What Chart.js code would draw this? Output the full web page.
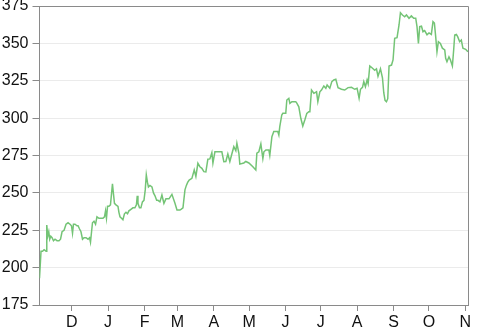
<!DOCTYPE html>
<html><head><meta charset="utf-8">
<script src="https://cdn.jsdelivr.net/npm/chart.js@4/dist/chart.umd.min.js"></script>
<style>html,body{margin:0;padding:0;background:#fff}#wrap{width:483px;height:329px}</style>
</head><body><div id="wrap"><canvas id="c" width="483" height="329"></canvas></div>
<script>
// days since 1 Nov (start of the period)
const days = [2.6,3.9,5.2,6.5,8.2,8.8,9.6,10.5,11.3,12.2,13.3,14.5,15.8,17.5,19.2,20.5,21.8,23.5,25.2,26.9,28.6,29.8,
30.7,31.5,32.8,34.5,35.4,36.6,37.9,39.2,40.5,42.2,43.9,45.2,46.0,46.9,47.7,49.0,50.3,51.5,53.2,54.9,56.6,57.9,58.8,59.6,60.5,
61.7,63.0,64.7,65.6,66.4,67.7,69.4,70.2,71.1,72.4,73.6,74.9,76.2,77.5,78.7,80.4,82.1,83.8,85.1,85.8,86.4,87.7,88.9,90.2,91.5,
92.6,93.5,94.5,95.3,96.6,98.3,99.6,100.9,102.3,103.4,105.1,106.8,108.5,110.2,112.8,115.3,117.9,119.6,
122.1,123.0,124.7,126.4,127.6,128.7,130.0,132.3,134.3,135.7,137.4,139.1,140.8,142.5,144.2,145.9,147.6,149.3,150.2,
151.9,154.4,157.8,159.5,161.2,162.9,164.6,166.3,168.0,169.7,170.6,172.3,173.1,174.8,176.5,178.2,180.8,
184.2,186.7,187.6,189.3,191.0,192.7,193.6,195.3,197.8,198.6,200.4,202.0,203.7,205.4,206.3,207.1,208.8,209.7,
212.2,213.1,214.8,215.7,217.4,219.0,220.7,221.6,223.3,225.0,226.7,228.4,230.1,231.8,232.7,234.1,236.1,238.4,239.5,241.2,
242.6,244.6,246.3,247.4,249.7,251.4,253.1,254.8,256.7,259.6,262.4,265.2,268.1,270.9,272.9,
274.6,275.8,277.5,278.6,280.0,281.4,282.3,283.7,285.1,287.9,289.4,290.7,292.8,294.5,295.6,296.7,297.9,299.0,300.1,302.2,303.5,
304.9,306.9,308.6,309.8,311.5,313.4,314.9,317.1,319.1,321.1,322.8,323.9,325.1,326.2,327.7,329.0,330.4,332.4,
334.1,336.1,337.5,338.7,339.8,340.9,342.1,343.8,345.5,347.5,348.3,349.4,351.1,352.3,354.0,355.1,356.0,357.4,358.5,360.2,361.6,363.0,
365.3,367.2];
const prices = [193,211,211,212,211,228.5,221,224,219,221,220,218,219,218,218,219,224,225,229,230,229,228,
223,229,229,228,228,226,224,219,220,220,219,220,217,224,230,231,229,234,233,233,233,234,238,233,241,
241,242,256,249,243,242,241,237,234,233,232,236,237,236,238,239,240,240,242,248,243,240,240,244,245,
252,262,257,254,255,254,250,248,245,245,244,248.6,243,246,246,249,243,238.5,
238.5,239,240,252,255,257,258.6,259.7,265.3,261,269.8,267.5,266.4,264.2,264,272.5,272.7,276.9,270,
277.5,277.5,277.5,270.9,271,276,271,276,280.9,278.2,283.2,276.5,269.3,269.6,270,271,270,
267.5,265.3,276.5,277.5,282.7,273,277.5,278.7,278.7,275,287.6,291,291,291,288.7,294.3,302.1,303.2,
303.2,312.1,313.2,309.9,311,311,311,310,307.6,299.9,294.7,298.7,303.2,304.3,304.3,318.8,316.6,317.6,311,317.6,
318.8,321.5,320,322.2,320,324.4,325.5,326,320.4,319.3,318.8,320.4,320.6,319.3,320,
313.3,319.3,320.6,324.4,321,325.5,323,334.9,334,332,333,328,333,327,317,311.9,311,313,334.9,335.5,338.9,
353.4,353.8,362.3,370.5,369,367.8,369,366.8,368.4,366.8,366.8,361.2,350,361.2,361.5,357.8,358.5,355.8,
357,356,364.5,363.5,354.5,344.4,351.1,350,346.8,345.6,340,337.7,341,339,334.9,345.6,355.6,356,354.5,351.1,352.2,346.7,
346,344.4];
// month ticks (days since 1 Nov) and labels
const monthTickDays = [30,61,92,120,151,181,212,242,273,304,334,365];
const monthLabels = ['D','J','F','M','A','M','J','J','A','S','O','N'];
const yTicks = [175,200,225,250,275,300,325,350,375];

const points = days.map((d,i)=>({x:d,y:prices[i]}));
const FONT = {family:"'Liberation Sans', Arial, Helvetica, sans-serif", size:16};

const framePlugin = {
  id:'frame',
  beforeDatasetsDraw(chart){
    const {ctx, chartArea:a} = chart;
    ctx.save();
    ctx.strokeStyle = '#8a8a8a';
    ctx.lineWidth = 1;
    ctx.beginPath();
    ctx.moveTo(Math.round(a.left)-0.5, Math.round(a.top)+0.5);
    ctx.lineTo(Math.round(a.right)+0.5, Math.round(a.top)+0.5);
    ctx.lineTo(Math.round(a.right)+0.5, Math.round(a.bottom));
    ctx.stroke();
    ctx.restore();
  }
};

new Chart(document.getElementById('c'), {
  type:'line',
  data:{datasets:[{data:points, borderColor:'rgb(116,196,118)', borderWidth:1.5, pointRadius:0, tension:0, fill:false}]},
  options:{
    responsive:false, animation:false,
    layout:{padding:{top:6,right:15,left:0,bottom:0}},
    plugins:{legend:{display:false}, tooltip:{enabled:false}},
    scales:{
      x:{type:'linear', min:2.6, max:367.3,
        afterBuildTicks(s){ s.ticks = monthTickDays.map(v=>({value:v})); },
        afterFit(s){ s.height = 24; s.paddingLeft = 0; s.paddingRight = 0; },
        ticks:{autoSkip:false, maxRotation:0, padding:2, color:'#111', font:FONT,
          callback:(v,i)=>monthLabels[i]},
        grid:{drawOnChartArea:false, drawTicks:true, tickLength:6, tickColor:'#8a8a8a'},
        border:{color:'#8a8a8a', width:1}
      },
      y:{min:175, max:375,
        afterBuildTicks(s){ s.ticks = yTicks.map(v=>({value:v})); },
        afterFit(s){ s.width = 39.5; s.paddingTop = 0; s.paddingBottom = 0; },
        ticks:{padding:4, color:'#111', font:FONT},
        grid:{color:'#ebebeb', tickLength:7, tickColor:'#8a8a8a'},
        border:{color:'#8a8a8a', width:1}
      }
    }
  },
  plugins:[framePlugin]
});
</script></body></html>
